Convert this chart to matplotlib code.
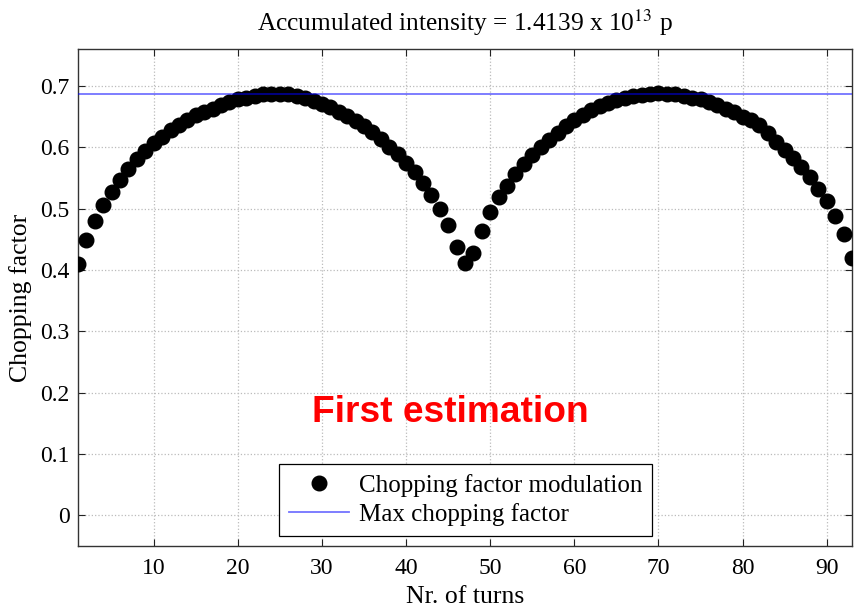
import numpy as np
import matplotlib
matplotlib.use('Agg')
import matplotlib.pyplot as plt

# chopping factor per turn (turns 1..93)
turns = list(range(1, 94))
chopping = [
    0.409, 0.449, 0.480, 0.506, 0.527, 0.547, 0.564, 0.580, 0.593, 0.607,
    0.617, 0.628, 0.637, 0.645, 0.652, 0.657, 0.663, 0.669, 0.674, 0.678,
    0.681, 0.684, 0.686, 0.687, 0.687, 0.686, 0.683, 0.680, 0.676, 0.671,
    0.665, 0.658, 0.651, 0.643, 0.634, 0.624, 0.613, 0.601, 0.589, 0.575,
    0.560, 0.542, 0.522, 0.499, 0.473, 0.438, 0.411, 0.428, 0.464, 0.495,
    0.519, 0.537, 0.556, 0.573, 0.588, 0.600, 0.612, 0.623, 0.634, 0.644,
    0.652, 0.660, 0.667, 0.672, 0.677, 0.680, 0.683, 0.685, 0.687, 0.688,
    0.687, 0.686, 0.684, 0.681, 0.678, 0.674, 0.669, 0.663, 0.657, 0.650,
    0.644, 0.637, 0.623, 0.609, 0.596, 0.582, 0.568, 0.551, 0.532, 0.512,
    0.488, 0.459, 0.420,
]
max_chopping = 0.687

x_ticks = [10, 20, 30, 40, 50, 60, 70, 80, 90]
y_ticks = [0, 0.1, 0.2, 0.3, 0.4, 0.5, 0.6, 0.7]

plt.rcParams['font.family'] = ['Liberation Serif', 'DejaVu Serif']
plt.rcParams['mathtext.fontset'] = 'stix'

fig = plt.figure(figsize=(8.56, 6.13), dpi=100)
ax = fig.add_axes([0.0911, 0.1093, 0.9042, 0.8107])

ax.plot(turns, chopping, 'o', color='black', markersize=10.5,
        label='Chopping factor modulation', zorder=3)
ax.axhline(max_chopping, color='#0000ff', alpha=0.55, linewidth=1.3,
           label='Max chopping factor', zorder=4)

ax.set_xlim(1, 93)
ax.set_ylim(-0.05, 0.76)
ax.set_xticks(x_ticks)
ax.set_yticks(y_ticks)
ax.set_yticklabels(['0', '0.1', '0.2', '0.3', '0.4', '0.5', '0.6', '0.7'])
ax.tick_params(direction='in', top=True, right=True, labelsize=17,
               length=5, width=0.8, colors='#222222', labelcolor='black')
ax.tick_params(axis='x', pad=9)
ax.tick_params(axis='y', pad=6)
for s in ax.spines.values():
    s.set_color('#333333')
    s.set_linewidth(1.0)
ax.grid(True, linestyle=':', color='#bbbbbb', linewidth=0.9)

ax.set_xlabel('Nr. of turns', fontsize=18.5, labelpad=5)
ax.set_ylabel('Chopping factor', fontsize=18.5, labelpad=6)
ax.set_title(r'Accumulated intensity = 1.4139 x 10$^{13}$ p', fontsize=18.3, pad=13)

ax.text(0.481, 0.268, 'First estimation', transform=ax.transAxes,
        color='#ff0000', fontsize=26.7, fontweight='bold',
        family='Liberation Sans', ha='center', va='center')

leg = ax.legend(loc='lower center', bbox_to_anchor=(0.501, 0.02),
                fontsize=18, frameon=True, fancybox=False, borderaxespad=0,
                handlelength=2.4, borderpad=0.4, labelspacing=0.25,
                handletextpad=0.4)
leg.get_frame().set_edgecolor('black')
leg.get_frame().set_linewidth(0.9)
leg.get_frame().set_alpha(1)

fig.savefig('out.png', dpi=100)
